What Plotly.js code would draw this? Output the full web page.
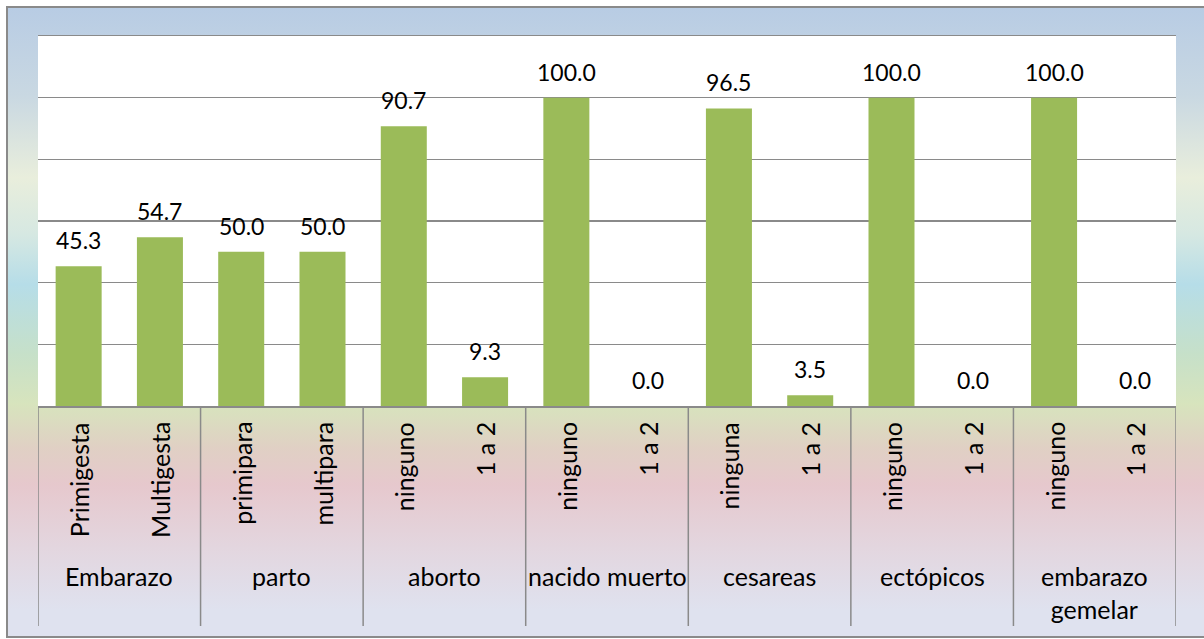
<!DOCTYPE html>
<html>
<head>
<meta charset="utf-8">
<script src="https://cdn.plot.ly/plotly-3.0.1.min.js"></script>
<style>
  html, body { margin: 0; padding: 0; background: #ffffff; }
  #frame {
    position: absolute; left: 6px; top: 6px; width: 1210px; height: 628px;
    border: 2px solid #8a8a8a;
    background: linear-gradient(to bottom,
      #b8cce4 0%, #c9d8e2 14%, #e9eedc 27%, #d6e8e2 36%, #b6dde8 44%,
      #c6e0c9 55%, #d7e4bd 63%, #e0d0c4 70%, #e6c8cd 76%, #e3d6df 86%, #dfe2ef 96%, #dfe2ef 100%);
  }
  #chart { position: absolute; left: 0; top: 0; width: 1204px; height: 639px; }
</style>
</head>
<body>
<div id="frame"></div>
<div id="chart"></div>
<script>
const groups = ['Embarazo', 'parto', 'aborto', 'nacido muerto', 'cesareas', 'ectópicos', 'embarazo<br>gemelar'];
const categories = ['Primigesta', 'Multigesta', 'primipara', 'multipara', 'ninguno', '1 a 2',
                    'ninguno', '1 a 2', 'ninguna', '1 a 2', 'ninguno', '1 a 2', 'ninguno', '1 a 2'];
const values = [45.3, 54.7, 50.0, 50.0, 90.7, 9.3, 100.0, 0.0, 96.5, 3.5, 100.0, 0.0, 100.0, 0.0];

const FONT = 'Lato, "Open Sans", sans-serif';
const W = 1204, H = 639;
const mL = 38, mR = 28, mT = 36, mB = 233;
const plotH = H - mT - mB;
const px2paper = (py) => (H - mB - py) / plotH;

const xs = categories.map((_, i) => i);

const annotations = [];
values.forEach((v, i) => {
  annotations.push({
    x: i, y: v, xref: 'x', yref: 'y', text: v.toFixed(1), showarrow: false,
    yanchor: 'middle', yshift: 26, font: {family: FONT, size: 23, color: '#000'}
  });
});
categories.forEach((c, i) => {
  annotations.push({
    x: i, y: px2paper(420), xref: 'x', yref: 'paper', text: c, showarrow: false,
    textangle: -90, yanchor: 'top', xanchor: 'center',
    font: {family: FONT, size: 25, color: '#000'}
  });
});
groups.forEach((g, k) => {
  annotations.push({
    x: 2 * k + 0.5, y: px2paper(559), xref: 'x', yref: 'paper', text: g, showarrow: false,
    yanchor: 'top', xanchor: 'center',
    font: {family: FONT, size: 25, color: '#000'}
  });
});

const shapes = [];
for (let k = 0; k <= groups.length; k++) {
  shapes.push({
    type: 'line', xref: 'x', yref: 'paper', x0: 2 * k - 0.5, x1: 2 * k - 0.5,
    y0: 0, y1: px2paper(626), line: {color: '#8a8a8a', width: 1.5}
  });
}

const trace = {
  type: 'bar', x: xs, y: values,
  marker: {color: '#9bbb59', line: {width: 0}},
  hoverinfo: 'none'
};

const layout = {
  width: W, height: H,
  margin: {l: mL, r: mR, t: mT, b: mB, pad: 0},
  paper_bgcolor: 'rgba(0,0,0,0)',
  plot_bgcolor: '#ffffff',
  showlegend: false,
  bargap: 0.434,
  xaxis: {
    range: [-0.5, 13.5], showticklabels: false, ticks: '', showgrid: false,
    zeroline: false, showline: true, mirror: true, linecolor: '#8a8a8a', linewidth: 1.5,
    fixedrange: true
  },
  yaxis: {
    range: [0, 120], dtick: 20, showticklabels: false, ticks: '',
    showgrid: true, gridcolor: '#8a8a8a', gridwidth: 1.5, zeroline: false, showline: false,
    fixedrange: true
  },
  annotations: annotations,
  shapes: shapes
};

Plotly.newPlot('chart', [trace], layout, {displayModeBar: false, staticPlot: true});
</script>
</body>
</html>
